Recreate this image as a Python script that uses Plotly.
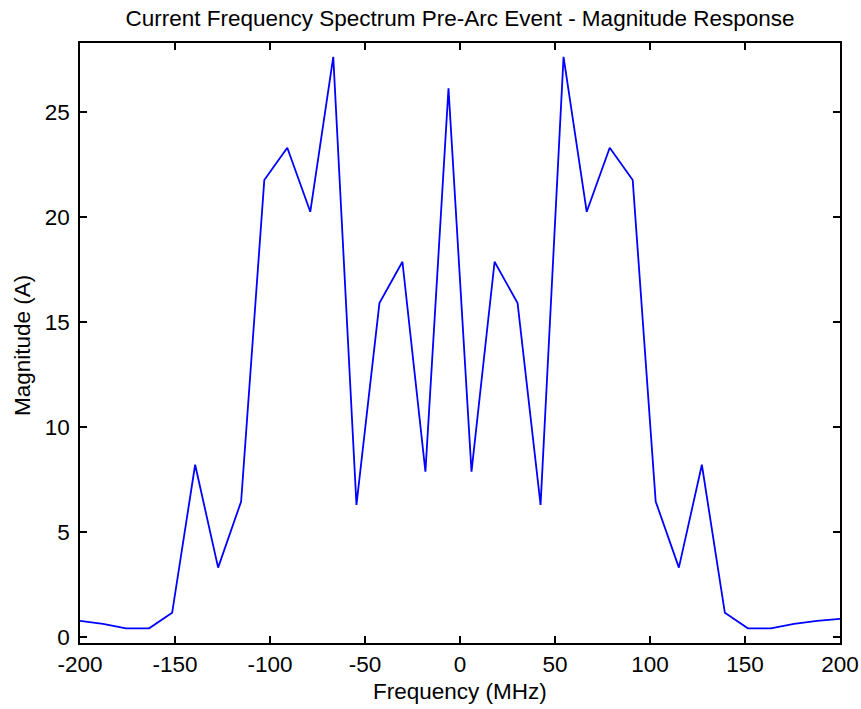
import plotly.graph_objects as go

# Frequency bins (MHz) and magnitude (A)
freq_mhz = [-200.0, -187.9, -175.8, -163.6, -151.5, -139.4, -127.3, -115.2,
            -103.0, -90.9, -78.8, -66.7, -54.5, -42.4, -30.3, -18.2,
            -6.06, 6.06, 18.2, 30.3, 42.4, 54.5, 66.7, 78.8,
            90.9, 103.0, 115.2, 127.3, 139.4, 151.5, 163.6, 175.8,
            187.9, 200.0]
magnitude_a = [0.76, 0.62, 0.41, 0.41, 1.15, 8.2, 3.3, 6.45,
               21.76, 23.3, 20.25, 27.63, 6.29, 15.9, 17.87, 7.87,
               26.13, 7.87, 17.87, 15.9, 6.29, 27.63, 20.25, 23.3,
               21.76, 6.45, 3.3, 8.2, 1.15, 0.41, 0.41, 0.62,
               0.76, 0.86]

x_ticks = [-200, -150, -100, -50, 0, 50, 100, 150, 200]
y_ticks = [0, 5, 10, 15, 20, 25]

FONT = "Liberation Sans"
FS = 22.5

fig = go.Figure()
fig.add_trace(go.Scatter(
    x=freq_mhz, y=magnitude_a, mode="lines",
    line=dict(color="#0000FF", width=1.8),
    showlegend=False, hoverinfo="skip",
))

W, H = 861, 709
L, R, T, B = 80, 21, 43, 66

axis_common = dict(
    showgrid=False, zeroline=False, automargin=False,
    showline=True, linecolor="#000000", linewidth=1.5, mirror="ticks",
    ticks="inside", ticklen=7, tickwidth=1.5, tickcolor="#000000",
    tickfont=dict(family=FONT, size=FS, color="#000000"),
)

fig.update_layout(
    width=W, height=H,
    margin=dict(l=L, r=R, t=T, b=B, pad=0, autoexpand=False),
    paper_bgcolor="#FFFFFF", plot_bgcolor="#FFFFFF",
    xaxis=dict(range=[-200, 200], tickvals=x_ticks,
               ticktext=[str(v) for v in x_ticks], **axis_common),
    yaxis=dict(range=[-0.29, 28.29], tickvals=y_ticks,
               ticktext=[str(v) for v in y_ticks], ticklabelstandoff=4,
               **axis_common),
    title=dict(text="Current Frequency Spectrum Pre-Arc Event - Magnitude Response",
               font=dict(family=FONT, size=FS, color="#000000"),
               x=0.5, xanchor="center", xref="paper",
               yref="container", y=1 - 18 / H, yanchor="middle"),
    annotations=[
        dict(text="Frequency (MHz)", xref="paper", yref="paper",
             x=0.5, y=-(691 - (H - B)) / (H - T - B), xanchor="center", yanchor="middle",
             showarrow=False, font=dict(family=FONT, size=FS, color="#000000")),
        dict(text="Magnitude (A)", xref="paper", yref="paper",
             x=-(L - 22) / (W - L - R), y=(H - B - 346) / (H - T - B),
             xanchor="center", yanchor="middle",
             textangle=-90, showarrow=False,
             font=dict(family=FONT, size=FS, color="#000000")),
    ],
)

fig.write_html("out.html")
